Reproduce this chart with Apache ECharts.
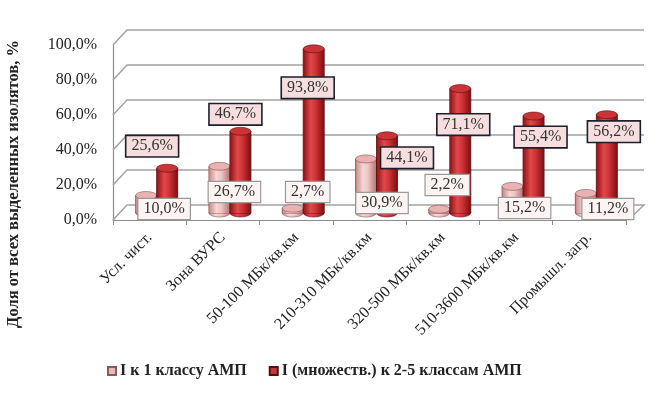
<!DOCTYPE html>
<html><head><meta charset="utf-8">
<script src="https://cdn.jsdelivr.net/npm/echarts@6/dist/echarts.min.js"></script>
<style>html,body{margin:0;padding:0;background:#fff}#c{width:659px;height:395px}</style>
</head><body><div id="c"></div>
<script>
const categories = ['Усл. чист.', 'Зона ВУРС', '50-100 МБк/кв.км', '210-310 МБк/кв.км', '320-500 МБк/кв.км', '510-3600 МБк/кв.км', 'Промышл. загр.'];
const pinkValues = [10.0, 26.7, 2.7, 30.9, 2.2, 15.2, 11.2];
const redValues = [25.6, 46.7, 93.8, 44.1, 71.1, 55.4, 56.2];
const yTicks = [0, 20, 40, 60, 80, 100];
const seriesNames = ['I к 1 классу АМП', 'I (множеств.) к 2-5 классам АМП'];
const yTitle = 'Доля от всех выделенных изолятов, %';
// label nudges (layout only), in px: pink relative to bar base, red relative to bar top
const pinkLabelNudge = [[18,-4],[15,-21],[15,-21],[16,-10],[8,-28],[12,-5],[22,-4]];
const redLabelNudge = [[-15,-22],[-5,-17],[-6,39],[20,22],[3,36],[7,21],[7,17]];

const fmt = v => v.toFixed(1).replace('.', ',') + '%';
const SERIF = '"Liberation Serif","DejaVu Serif",serif';
const G = echarts.graphic;

const pinkFill = new G.LinearGradient(0,0,1,0,[
  {offset:0,color:'#c99090'},{offset:0.35,color:'#f8d6d6'},{offset:0.6,color:'#f0c4c4'},{offset:1,color:'#b77c7c'}]);
const redFill = new G.LinearGradient(0,0,1,0,[
  {offset:0,color:'#9a1619'},{offset:0.35,color:'#e0494b'},{offset:0.6,color:'#cf3336'},{offset:1,color:'#861114'}]);

function cylinder(side, fill, topColor, stroke) {
  return function (params, api) {
    const cat = api.value(0), v = api.value(1);
    const top = api.coord([cat, v]);
    const base = api.coord([cat, 0]);
    const rx = 10.5, ry = 4;
    const cx = top[0] + side * rx;
    const ell = (y, f) => ({type:'circle', x:cx, y:y, scaleY: ry/rx,
      shape:{cx:0, cy:0, r:rx}, style:{fill:f, stroke:stroke, lineWidth:0.8}});
    return {type:'group', children:[
      ell(base[1], fill),
      {type:'rect', shape:{x:cx-rx, y:top[1], width:2*rx, height:Math.max(0, base[1]-top[1])},
        style:{fill:fill, stroke:stroke, lineWidth:0.8}},
      {type:'rect', shape:{x:cx-rx+0.8, y:top[1], width:2*rx-1.6, height:Math.max(0, base[1]-top[1])},
        style:{fill:fill}},
      ell(top[1], topColor)
    ]};
  };
}

function labelBox(text, x, y, bg, border, bw) {
  return {type:'text', x:x, y:y, style:{text:text, font:'16px ' + SERIF, fill:'#333',
    align:'center', verticalAlign:'middle', backgroundColor:bg, borderColor:border,
    borderWidth:bw, padding:[3,5,1,5]}};
}

const chart = echarts.init(document.getElementById('c'));
chart.setOption({
  backgroundColor:'#fff',
  animation:false,
  grid:[
    {left:113, width:513, top:45, height:175},
    {left:127, width:517, top:30, height:175},
    {left:120, width:513, top:38, height:175}
  ],
  xAxis:[
    {gridIndex:0, type:'category', data:categories, boundaryGap:true,
      axisLine:{lineStyle:{color:'#8c8c8c', width:1.2}},
      axisTick:{show:true, length:5, lineStyle:{color:'#8c8c8c'}},
      axisLabel:{rotate:45, fontFamily:SERIF, fontSize:16, color:'#222', margin:15, interval:0}},
    {gridIndex:1, type:'value', min:0, max:1, show:false},
    {gridIndex:2, type:'category', data:categories, show:false}
  ],
  yAxis:[
    {gridIndex:0, type:'value', min:0, max:100, interval:20,
      axisLine:{show:true, lineStyle:{color:'#8c8c8c', width:1.2}},
      axisTick:{show:false}, splitLine:{show:false},
      axisLabel:{formatter:v => fmt(v), fontFamily:SERIF, fontSize:16, color:'#222', margin:16}},
    {gridIndex:1, type:'value', min:0, max:100, interval:20, show:false, splitLine:{show:false}},
    {gridIndex:2, type:'value', min:0, max:100, show:false, splitLine:{show:false}}
  ],
  legend:{
    left:102, top:358, icon:'rect', itemWidth:8, itemHeight:8, itemGap:22,
    data:seriesNames,
    textStyle:{fontFamily:SERIF, fontSize:16, fontWeight:'bold', color:'#222', padding:[0,0,0,-1]}
  },
  graphic:[{type:'text', x:14, y:184, rotation:Math.PI/2,
    style:{text:yTitle, font:'bold 16.5px ' + SERIF, fill:'#222', align:'center', verticalAlign:'middle'}}],
  series:[
    {type:'custom', name:'frame', xAxisIndex:1, yAxisIndex:1, z:1, silent:true,
      data:yTicks.map(t => [0, t]),
      renderItem:function(params, api){
        const v = api.value(1);
        const pL = api.coord([0, v]), pR = api.coord([1, v]);
        const pts = [[pL[0]-14, pL[1]+15], pL, pR];
        if (v === 0) pts.push([pR[0]-16, pR[1]+15]);
        return {type:'polyline', shape:{points:pts}, style:{stroke:'#a3a3a3', lineWidth:1.5, fill:null}};
      }},
    {type:'custom', name:seriesNames[0], xAxisIndex:2, yAxisIndex:2, z:3,
      itemStyle:{color:'#e8b7b7', borderColor:'#8a5a5a', borderWidth:0.6},
      data:pinkValues.map((v,i) => [i, v]), encode:{x:0, y:1},
      renderItem:cylinder(-1, pinkFill, '#e9b2b2', '#7d4c4c')},
    {type:'custom', name:seriesNames[1], xAxisIndex:2, yAxisIndex:2, z:3,
      itemStyle:{color:'#c0393b', borderColor:'#5a0c0e', borderWidth:0.6},
      data:redValues.map((v,i) => [i, v]), encode:{x:0, y:1},
      renderItem:cylinder(1, redFill, '#c93537', '#4e0a0c')},
    {type:'custom', name:'labels', xAxisIndex:2, yAxisIndex:2, z:6, silent:true,
      data:categories.map((c,i) => [i, pinkValues[i], redValues[i]]),
      renderItem:function(params, api){
        const i = params.dataIndex;
        const cat = api.value(0), pv = api.value(1), rv = api.value(2);
        const base = api.coord([cat, 0]);
        const rTop = api.coord([cat, rv]);
        const px = base[0] - 10.5 + pinkLabelNudge[i][0];
        const py = base[1] + pinkLabelNudge[i][1];
        const rx = rTop[0] + 10.5 + redLabelNudge[i][0];
        const ry = rTop[1] + redLabelNudge[i][1];
        return {type:'group', children:[
          labelBox(fmt(pv), px, py, '#fcf3f3', '#9a9a9a', 1.2),
          labelBox(fmt(rv), rx, ry, '#f6dede', '#1e1e2c', 1.6)
        ]};
      }}
  ]
});
</script></body></html>
